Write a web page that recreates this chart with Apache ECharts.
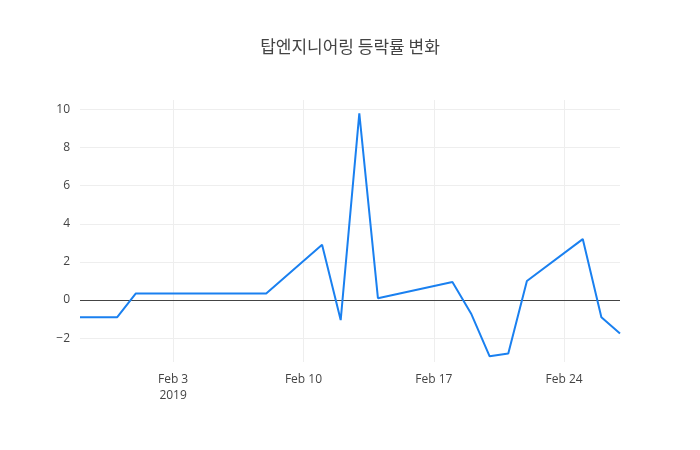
<!DOCTYPE html>
<html><head><meta charset="utf-8">
<script src="https://cdn.jsdelivr.net/npm/echarts@6/dist/echarts.min.js"></script>
<style>body{margin:0}#c{width:700px;height:450px}</style></head>
<body><div id="c"></div>
<script>
// days relative to Feb 3, 2019
const days = [-5, -3, -2, 5, 8, 9, 10, 11, 15, 16, 17, 18, 19, 22, 23, 24];
const values = [-0.9, -0.9, 0.35, 0.35, 2.9, -1.05, 9.8, 0.1, 0.95, -0.7, -2.95, -2.8, 1.0, 3.2, -0.9, -1.75];
const xTicks = [0, 7, 14, 21];
const xTickLabels = ['Feb 3\n2019', 'Feb 10', 'Feb 17', 'Feb 24'];
const yTicks = [-2, 2, 4, 6, 8, 10];

const chart = echarts.init(document.getElementById('c'));
const font = "'Open Sans', sans-serif";
chart.setOption({
  animation: false,
  title: {text: '탑엔지니어링 등락률 변화', left: 'center', top: 33,
    textStyle: {fontFamily: "'Noto Sans CJK KR', sans-serif", fontSize: 17, fontWeight: 'normal', color: '#444'}},
  grid: {left: 80, right: 80, top: 100, bottom: 88},
  xAxis: {type: 'value', min: -5, max: 24, interval: 1,
    axisLine: {show: false}, axisTick: {show: false}, splitLine: {show: false},
    axisLabel: {show: true, interval: 0, showMinLabel: true, showMaxLabel: true, color: '#444', fontFamily: font, fontSize: 12, margin: 10, lineHeight: 16,
      formatter: v => { const i = xTicks.indexOf(Math.round(v)); return (i >= 0 && Math.abs(v - xTicks[i]) < 1e-6) ? xTickLabels[i] : ''; }}},
  yAxis: {type: 'value', min: -3.25, max: 10.5, interval: 0.25,
    axisLine: {show: false}, axisTick: {show: false}, splitLine: {show: false},
    axisLabel: {show: true, interval: 0, color: '#444', fontFamily: font, fontSize: 12, margin: 10,
      formatter: v => { const r = Math.round(v); return (Math.abs(v - r) < 1e-6 && r % 2 === 0) ? (r < 0 ? '\u2212' + (-r) : String(r)) : ''; }}},
  series: [{
    type: 'line', data: days.map((d, i) => [d, values[i]]), showSymbol: false,
    lineStyle: {color: '#1a80f0', width: 2}, z: 5,
    markLine: {silent: true, symbol: 'none', label: {show: false},
      data: [
        ...xTicks.map(x => ({xAxis: x, lineStyle: {color: '#eeeeee', width: 1, type: 'solid'}})),
        ...yTicks.map(y => ({yAxis: y, lineStyle: {color: '#eeeeee', width: 1, type: 'solid'}})),
        {yAxis: 0, lineStyle: {color: '#444', width: 1, type: 'solid'}}
      ]}
  }]
});
</script></body></html>
